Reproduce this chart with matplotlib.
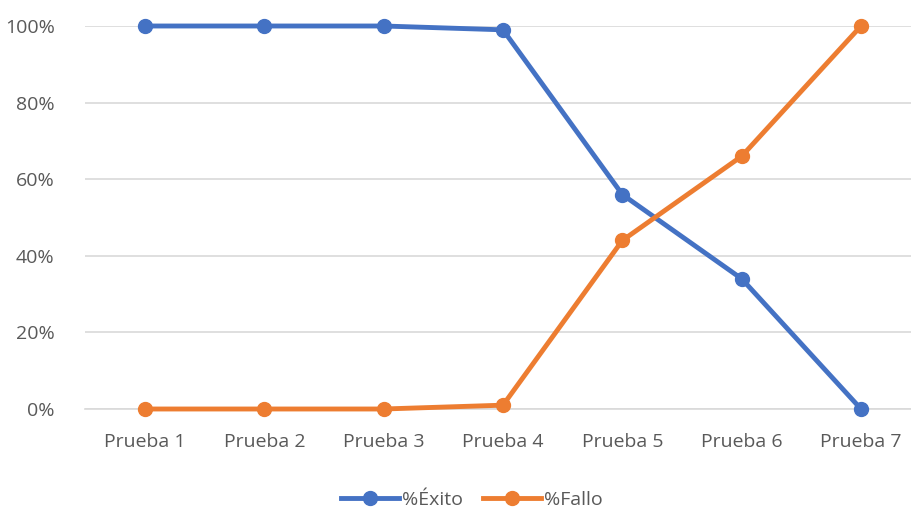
import matplotlib
matplotlib.use("Agg")
import matplotlib.pyplot as plt
from matplotlib.ticker import PercentFormatter

categories = ["Prueba 1", "Prueba 2", "Prueba 3", "Prueba 4", "Prueba 5", "Prueba 6", "Prueba 7"]
exito = [100, 100, 100, 99, 56, 34, 0]
fallo = [0, 0, 0, 1, 44, 66, 100]
yticks = [0, 20, 40, 60, 80, 100]

plt.rcParams['font.family'] = ['Open Sans', 'DejaVu Sans']
text_color = '#595959'

fig = plt.figure(figsize=(9.12, 5.11), dpi=100)
ax = fig.add_axes([85.3/912, 1-409/511, (920.7-85.3)/912, (409-26)/511])

x = list(range(len(categories)))
ax.plot(x, exito, color='#4472C4', lw=3.5, marker='o', ms=10, label='%Éxito', clip_on=False, zorder=3)
ax.plot(x, fallo, color='#ED7D31', lw=3.5, marker='o', ms=10, label='%Fallo', clip_on=False, zorder=3)

ax.set_xlim(-0.5, len(categories) - 0.5)
ax.set_ylim(0, 100)
ax.set_yticks(yticks)
ax.yaxis.set_major_formatter(PercentFormatter(decimals=0))
ax.set_xticks(x)
ax.set_xticklabels(categories)
ax.grid(axis='y', color='#D9D9D9', lw=1.2)
ax.set_axisbelow(True)
for s in ['top', 'right', 'left']:
    ax.spines[s].set_visible(False)
ax.spines['bottom'].set_color('#D9D9D9')
ax.spines['bottom'].set_linewidth(1.2)
ax.tick_params(axis='both', length=0, labelsize=14, colors=text_color)
ax.tick_params(axis='x', pad=17)
ax.tick_params(axis='y', pad=22)

leg = fig.legend(loc='center', bbox_to_anchor=(472/912, 1-500/511), ncol=2, frameon=False,
                 fontsize=14, handlelength=3.0, columnspacing=1.0, handletextpad=0.15)
for t in leg.get_texts():
    t.set_color(text_color)

fig.savefig('out.png', dpi=100)
